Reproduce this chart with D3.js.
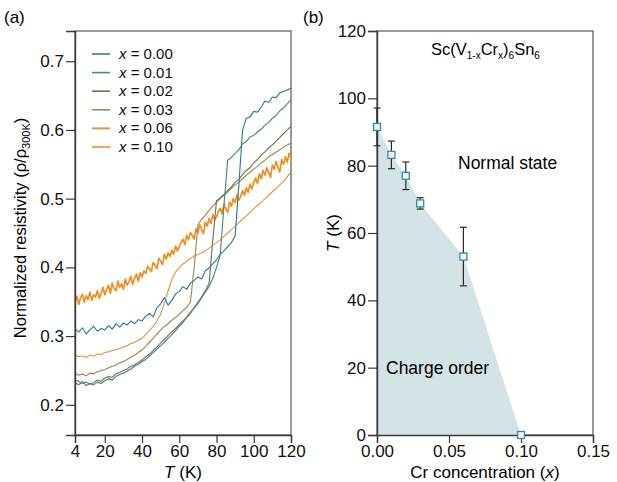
<!DOCTYPE html>
<html><head><meta charset="utf-8">
<script src="https://cdn.jsdelivr.net/npm/d3@7"></script>
<style>
body{margin:0;background:#fff;}
svg{font-family:"Liberation Sans",Arial,sans-serif;}
</style></head>
<body>
<svg id="c" width="617" height="482"></svg>
<script>
// ---------- Panel (a) data ----------
const temps = [4,6,8,10,12,14,16,18,20,22,24,26,28,30,32,34,36,38,40,42,44,46,48,50,52,54,56,58,60,62,64,66,68,70,72,74,76,78,80,82,84,86,88,90,92,94,96,98,100,102,104,106,108,110,112,114,116,118,120];
const tempsFine = [4,5,6,7,8,9,10,11,12,13,14,15,16,17,18,19,20,21,22,23,24,25,26,27,28,29,30,31,32,33,34,35,36,37,38,39,40,41,42,43,44,45,46,47,48,49,50,51,52,53,54,55,56,57,58,59,60,61,62,63,64,65,66,67,68,69,70,71,72,73,74,75,76,77,78,79,80,81,82,83,84,85,86,87,88,89,90,91,92,93,94,95,96,97,98,99,100,101,102,103,104,105,106,107,108,109,110,111,112,113,114,115,116,117,118,119,120];
const seriesLabels = ["x = 0.00","x = 0.01","x = 0.02","x = 0.03","x = 0.06","x = 0.10"];
const seriesColors = ["#2f7f93","#4b8a7e","#6f7658","#a3884f","#d69a4c","#ee8f22"];
const rho000 = [.310,.306,.312,.303,.309,.314,.307,.311,.309,.315,.310,.318,.313,.319,.316,.322,.318,.324,.322,.329,.333,.328,.341,.347,.356,.345,.352,.361,.365,.372,.368,.377,.381,.386,.383,.395,.399,.405,.411,.419,.424,.430,.436,.446,.520,.600,.617,.619,.627,.626,.633,.642,.640,.648,.647,.654,.656,.658,.661];
const rho001 = [.236,.234,.231,.233,.230,.232,.236,.234,.239,.241,.240,.245,.247,.250,.252,.256,.258,.262,.265,.270,.274,.279,.284,.290,.295,.301,.306,.311,.317,.322,.328,.335,.341,.347,.356,.364,.372,.384,.400,.418,.490,.556,.560,.566,.571,.580,.583,.590,.592,.597,.601,.607,.611,.617,.621,.628,.632,.638,.644];
const rho002 = [.232,.229,.234,.228,.231,.229,.233,.231,.235,.238,.236,.241,.244,.246,.249,.252,.256,.259,.263,.266,.271,.276,.281,.286,.291,.297,.302,.308,.314,.320,.327,.333,.341,.349,.357,.366,.377,.440,.497,.501,.506,.512,.517,.524,.528,.535,.541,.545,.552,.557,.563,.568,.574,.578,.584,.589,.595,.600,.605];
const rho003 = [.246,.243,.245,.242,.246,.245,.248,.250,.251,.254,.256,.258,.261,.263,.266,.269,.272,.276,.280,.285,.291,.297,.303,.309,.314,.318,.323,.327,.332,.337,.342,.350,.400,.462,.470,.476,.483,.489,.495,.500,.505,.510,.515,.520,.524,.529,.534,.538,.543,.547,.552,.556,.561,.564,.568,.571,.575,.578,.581];
const rho006 = [.272,.270,.271,.269,.272,.271,.274,.273,.276,.277,.279,.280,.282,.284,.286,.289,.291,.294,.297,.302,.308,.314,.322,.332,.348,.366,.382,.393,.400,.405,.409,.413,.416,.419,.421,.424,.428,.432,.436,.440,.445,.450,.455,.460,.465,.470,.475,.480,.485,.490,.495,.500,.505,.510,.515,.520,.525,.532,.539];
// x = 0.10 measured on the fine (1 K) temperature grid
const rho010 = [.350,.358,.346,.356,.361,.349,.359,.353,.364,.352,.360,.357,.366,.355,.362,.371,.360,
  .368,.374,.362,.377,.369,.366,.380,.371,.376,.368,.383,.374,.379,.387,.375,.384,.390,.380,.392,.386,
  .395,.391,.401,.398,.394,.407,.403,.398,.413,.409,.404,.419,.412,.421,.416,.425,.419,.431,.424,.430,
  .436,.441,.433,.447,.440,.451,.446,.441,.456,.450,.462,.455,.449,.466,.460,.471,.464,.477,.469,.474,
  .481,.486,.478,.492,.485,.480,.495,.489,.500,.494,.506,.498,.503,.512,.505,.516,.509,.521,.514,.523,
  .530,.522,.536,.529,.541,.534,.545,.538,.531,.549,.543,.554,.546,.539,.557,.550,.561,.553,.566,.558];
const rhoSeries = [rho000,rho001,rho002,rho003,rho006,rho010];
const leftYTicks = [0.2,0.3,0.4,0.5,0.6,0.7];
const leftXTicks = [4,20,40,60,80,100,120];

// ---------- Panel (b) data ----------
const crConc = [0,0.01,0.02,0.03,0.06,0.10];
const tco = [91.5,83.2,77,68.8,53,0];
const tcoErr = [5.6,4.1,4.1,1.7,8.7,0];
const rightYTicks = [0,20,40,60,80,100,120];
const rightXTicks = [0,0.05,0.10,0.15];

const svg = d3.select("#c");
const axisColor = "#3a3a3a", frameColor = "#6e6e6e";
const tickFont = "17px";

// ======== Panel (a) ========
const xA = d3.scaleLinear().domain([4,120]).range([75,291]);
const yA = d3.scaleLinear().domain([0.156,0.744]).range([435,31]);

svg.append("rect").attr("x",75).attr("y",31).attr("width",216).attr("height",404)
  .attr("fill","none").attr("stroke",frameColor).attr("stroke-width",1.4);

const gA = svg.append("g");
[5,4,3,2,1,0].forEach(k=>{
  const tArr = k===5 ? tempsFine : temps;
  const ln = d3.line().x((d,i)=>xA(tArr[i])).y(d=>yA(d));
  gA.append("path").datum(rhoSeries[k]).attr("d",ln)
    .attr("fill","none").attr("stroke",seriesColors[k]).attr("stroke-width",k===5?1.7:1.15)
    .attr("stroke-linejoin","round");
});

const axA_y = svg.append("g").attr("transform","translate(75,0)")
  .call(d3.axisLeft(yA).tickValues(leftYTicks).tickSize(9).tickPadding(2).tickFormat(d3.format(".1f")));
const axA_x = svg.append("g").attr("transform","translate(0,435)")
  .call(d3.axisBottom(xA).tickValues(leftXTicks).tickSize(8).tickPadding(2));
[axA_y,axA_x].forEach(a=>{
  a.select(".domain").attr("stroke",axisColor).attr("stroke-width",1.4);
  a.selectAll(".tick line").attr("stroke",axisColor).attr("stroke-width",1.2);
  a.selectAll(".tick text").attr("fill","#111").style("font-size",tickFont).style("font-family","Liberation Sans, Arial, sans-serif");
});

// legend
const lg = svg.append("g");
seriesLabels.forEach((lab,i)=>{
  const y = 54 + i*18.6;
  lg.append("line").attr("x1",92).attr("x2",110).attr("y1",y).attr("y2",y)
    .attr("stroke",seriesColors[i]).attr("stroke-width",i===4?2:1.6);
  const t = lg.append("text").attr("x",119).attr("y",y+5).style("font-size","15px").attr("fill","#111");
  t.append("tspan").attr("font-style","italic").text("x");
  t.append("tspan").text(lab.slice(1));
});

// axis labels (a)
const tl = svg.append("text").attr("x",183).attr("y",478).attr("text-anchor","middle").style("font-size","17px");
tl.append("tspan").attr("font-style","italic").text("T");
tl.append("tspan").text(" (K)");
const yl = svg.append("text").attr("transform","translate(26,228) rotate(-90)").attr("text-anchor","middle").style("font-size","16.5px");
yl.append("tspan").text("Normalized resistivity (ρ/ρ");
yl.append("tspan").attr("dy",4).style("font-size","11px").text("300K");
yl.append("tspan").attr("dy",-4).text(")");

svg.append("text").attr("x",4).attr("y",23).style("font-size","17px").text("(a)");
svg.append("text").attr("x",303).attr("y",23).style("font-size","17px").text("(b)");

// ======== Panel (b) ========
const xB = d3.scaleLinear().domain([0,0.15]).range([377,593]);
const yB = d3.scaleLinear().domain([0,120]).range([435,31]);

svg.append("rect").attr("x",377).attr("y",31).attr("width",216).attr("height",404)
  .attr("fill","none").attr("stroke",frameColor).attr("stroke-width",1.4);

const pts = crConc.map((c,i)=>({c, t:tco[i], e:tcoErr[i]}));
svg.append("path").datum(pts)
  .attr("d", d3.area().x(d=>xB(d.c)).y0(yB(0)).y1(d=>yB(d.t)))
  .attr("fill","#d3e3e6");

const axB_y = svg.append("g").attr("transform","translate(377,0)")
  .call(d3.axisLeft(yB).tickValues(rightYTicks).tickSize(9).tickPadding(2));
const axB_x = svg.append("g").attr("transform","translate(0,435)")
  .call(d3.axisBottom(xB).tickValues(rightXTicks).tickSize(8).tickPadding(2).tickFormat(d3.format(".2f")));
[axB_y,axB_x].forEach(a=>{
  a.select(".domain").attr("stroke",axisColor).attr("stroke-width",1.4);
  a.selectAll(".tick line").attr("stroke",axisColor).attr("stroke-width",1.2);
  a.selectAll(".tick text").attr("fill","#111").style("font-size",tickFont).style("font-family","Liberation Sans, Arial, sans-serif");
});

// error bars
const eb = svg.append("g").attr("stroke","#2a2a2a").attr("stroke-width",1.2);
pts.filter(d=>d.e>0).forEach(d=>{
  const x = xB(d.c);
  eb.append("line").attr("x1",x).attr("x2",x).attr("y1",yB(d.t-d.e)).attr("y2",yB(d.t+d.e));
  [d.t-d.e,d.t+d.e].forEach(v=>{
    eb.append("line").attr("x1",x-3.5).attr("x2",x+3.5).attr("y1",yB(v)).attr("y2",yB(v));
  });
});
// markers
svg.append("g").selectAll("rect").data(pts).join("rect")
  .attr("x",d=>xB(d.c)-3.5).attr("y",d=>yB(d.t)-3.5).attr("width",7).attr("height",7)
  .attr("fill","#eef5f6").attr("stroke","#3a8c9c").attr("stroke-width",1.3);

// texts (b)
const ft = svg.append("text").attr("x",431).attr("y",55).style("font-size","16.5px");
ft.append("tspan").text("Sc(V");
ft.append("tspan").attr("dy",4).style("font-size","10px").text("1-x");
ft.append("tspan").attr("dy",-4).text("Cr");
ft.append("tspan").attr("dy",4).style("font-size","10px").text("x");
ft.append("tspan").attr("dy",-4).text(")");
ft.append("tspan").attr("dy",4).style("font-size","10px").text("6");
ft.append("tspan").attr("dy",-4).text("Sn");
ft.append("tspan").attr("dy",4).style("font-size","10px").text("6");

svg.append("text").attr("x",458).attr("y",169).style("font-size","17.5px").text("Normal state");
svg.append("text").attr("x",386).attr("y",374).style("font-size","17.5px").text("Charge order");

const xl = svg.append("text").attr("x",485).attr("y",478).attr("text-anchor","middle").style("font-size","17px");
xl.append("tspan").text("Cr concentration (");
xl.append("tspan").attr("font-style","italic").text("x");
xl.append("tspan").text(")");
const yl2 = svg.append("text").attr("transform","translate(339,233) rotate(-90)").attr("text-anchor","middle").style("font-size","17px");
yl2.append("tspan").attr("font-style","italic").text("T");
yl2.append("tspan").text(" (K)");
</script>
</body></html>
